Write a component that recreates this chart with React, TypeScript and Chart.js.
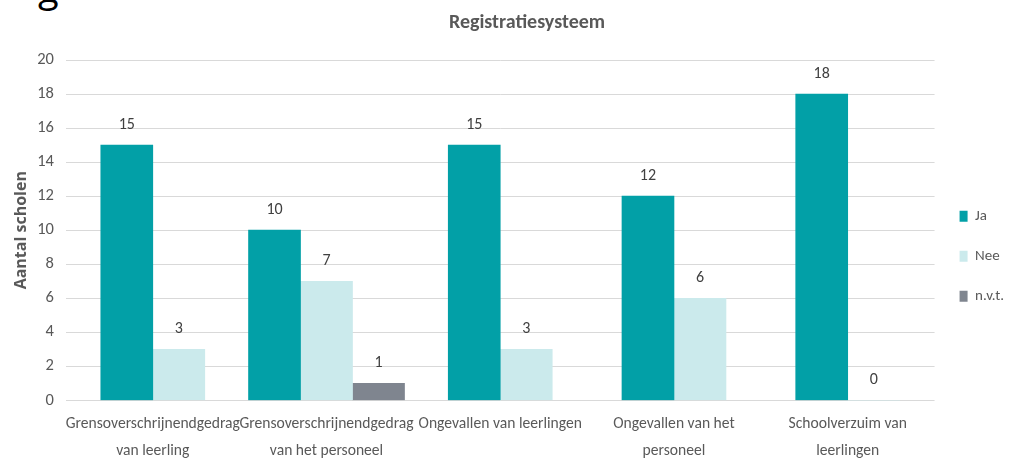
import React, { useEffect, useRef } from "react";
import { Chart, registerables } from "chart.js";

Chart.register(...registerables);

const chartTitle = "Registratiesysteem";
const categories: string[][] = [
  ["Grensoverschrijnendgedrag", "van leerling"],
  ["Grensoverschrijnendgedrag", "van het personeel"],
  ["Ongevallen van leerlingen"],
  ["Ongevallen van het", "personeel"],
  ["Schoolverzuim van", "leerlingen"],
];
const jaValues: (number | null)[] = [15, 10, 15, 12, 18];
const neeValues: (number | null)[] = [3, 7, 3, 6, 0];
const nvtValues: (number | null)[] = [null, 1, null, null, null];
const yTicks: number[] = [0, 2, 4, 6, 8, 10, 12, 14, 16, 18, 20];

const FONT = "Carlito, 'Open Sans', sans-serif";

const valueLabels = {
  id: "valueLabels",
  afterDatasetsDraw(chart: any) {
    const ctx = chart.ctx;
    ctx.save();
    ctx.font = `16px ${FONT}`;
    ctx.fillStyle = "#404040";
    ctx.textAlign = "center";
    ctx.textBaseline = "middle";
    chart.data.datasets.forEach((ds: any, di: number) => {
      const meta = chart.getDatasetMeta(di);
      meta.data.forEach((el: any, i: number) => {
        const v = ds.data[i];
        if (v === null || v === undefined) return;
        ctx.fillText(String(v), el.x, el.y - 20);
      });
    });
    ctx.restore();
  },
};

// draws the chart title slightly right of centre, as in the reference
const offsetTitle = {
  id: "offsetTitle",
  afterDraw(chart: any) {
    const tb = chart.titleBlock;
    if (!tb) return;
    const ctx = chart.ctx;
    ctx.save();
    ctx.font = `bold 20px ${FONT}`;
    ctx.fillStyle = "#595959";
    ctx.textAlign = "center";
    ctx.textBaseline = "middle";
    const cy = tb.top + 11 + 12;
    ctx.fillText(chartTitle, (tb.left + tb.right) / 2 + 14, cy);
    ctx.restore();
  },
};

export default function App() {
  const ref = useRef<HTMLCanvasElement | null>(null);
  useEffect(() => {
    if (!ref.current) return;
    const chart = new Chart(ref.current, {
      type: "bar",
      data: {
        labels: categories,
        datasets: [
          { label: "Ja", data: jaValues, backgroundColor: "#02a0a7", barThickness: 52, skipNull: true } as any,
          { label: "Nee", data: neeValues, backgroundColor: "#cbeaec", barThickness: 52, skipNull: true } as any,
          { label: "n.v.t.", data: nvtValues, backgroundColor: "#7f858f", barThickness: 52, skipNull: true } as any,
        ],
      },
      options: {
        animation: false,
        responsive: false,
        maintainAspectRatio: false,
        layout: { padding: { left: 12, right: -5, top: 0, bottom: -7 } },
        plugins: {
          title: {
            display: true,
            text: chartTitle,
            color: "rgba(0,0,0,0)",
            font: { family: FONT, size: 20, weight: "bold" },
            padding: { top: 9, bottom: 27 },
          },
          legend: {
            position: "right",
            title: { display: true, text: " ", padding: { top: 0, bottom: 23 }, font: { size: 12 } },
            labels: {
              boxWidth: 8,
              boxHeight: 11,
              padding: 25,
              color: "#595959",
              font: { family: FONT, size: 15 },
            },
          },
          tooltip: { enabled: false },
        },
        scales: {
          x: {
            grid: { display: false, drawTicks: false },
            border: { display: false },
            ticks: {
              color: "#595959",
              font: { family: FONT, size: 15.6, lineHeight: 1.75 },
              maxRotation: 0,
              autoSkip: false,
              padding: 10,
            },
          },
          y: {
            min: 0,
            max: 20,
            afterBuildTicks: (axis: any) => {
              axis.ticks = yTicks.map((v) => ({ value: v }));
            },
            grid: { color: "#d9d9d9", drawTicks: true, tickLength: 10, tickColor: "#ffffff" },
            border: { display: false },
            ticks: {
              color: "#595959",
              font: { family: FONT, size: 16.5, lineHeight: 0.5 },
              padding: 2,
            },
            title: {
              display: true,
              text: "Aantal scholen",
              color: "#595959",
              font: { family: "'Open Sans', sans-serif", size: 16, weight: "bold" },
              padding: { top: 0, bottom: 4 },
            },
          },
        },
      } as any,
      plugins: [valueLabels, offsetTitle],
    });
    return () => chart.destroy();
  }, []);
  return (
    <div style={{ position: "fixed", left: 0, top: 0, width: 1009, height: 468, background: "#fff", overflow: "hidden" }}>
      <div style={{ position: "absolute", left: 38, top: -32, fontFamily: "'Open Sans', sans-serif", fontSize: 38, lineHeight: "38px", color: "#000" }}>g</div>
      <canvas ref={ref} width={1009} height={468} style={{ position: "absolute", left: 0, top: 0 }} />
    </div>
  );
}
